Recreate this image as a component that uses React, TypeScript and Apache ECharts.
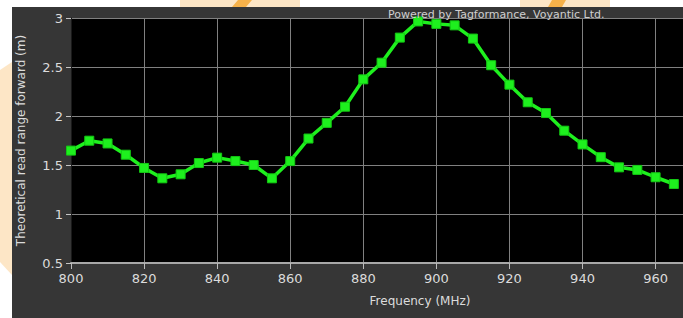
import React, { useEffect, useRef } from "react";
import * as echarts from "echarts";

const frequencies = [
  800, 805, 810, 815, 820, 825, 830, 835, 840, 845, 850, 855, 860, 865, 870, 875, 880,
  885, 890, 895, 900, 905, 910, 915, 920, 925, 930, 935, 940, 945, 950, 955, 960, 965,
];
const readRange = [
  1.647, 1.748, 1.72, 1.605, 1.47, 1.364, 1.405, 1.52, 1.575, 1.54, 1.5, 1.364, 1.54, 1.77,
  1.93, 2.095, 2.374, 2.544, 2.8, 2.965, 2.94, 2.925, 2.79, 2.518, 2.32, 2.14, 2.03, 1.85,
  1.71, 1.58, 1.476, 1.45, 1.375, 1.306,
];
const xTickValues = [800, 820, 840, 860, 880, 900, 920, 940, 960];

export default function App() {
  const ref = useRef<HTMLDivElement>(null);
  useEffect(() => {
    if (!ref.current) return;
    const chart = echarts.init(ref.current, null, { renderer: "svg" });
    const labelColor = "#dcdcdc";
    const font = "DejaVu Sans";
    chart.setOption({
      animation: false,
      backgroundColor: "#363636",
      grid: {
        left: 71,
        right: 0,
        top: 18,
        bottom: 55,
        show: true,
        backgroundColor: "#000000",
        borderWidth: 0,
      },
      xAxis: {
        type: "value",
        min: 800,
        max: 967.5,
        interval: 20,
        axisLine: { show: true, lineStyle: { color: "#a8a8a8", width: 2 } },
        axisTick: { show: true, length: 6, lineStyle: { color: "#bcbcbc" } },
        splitLine: { show: true, lineStyle: { color: "#808080", width: 1 } },
        axisLabel: {
          color: labelColor,
          fontFamily: font,
          fontSize: 13,
          margin: 9,
          showMaxLabel: false,
          formatter: (v: number) => (xTickValues.includes(Math.round(v)) && Math.abs(v - Math.round(v)) < 1e-6 ? String(Math.round(v)) : ""),
        },
      },
      yAxis: {
        type: "value",
        min: 0.5,
        max: 3,
        interval: 0.5,
        name: "Theoretical read range forward (m)",
        nameLocation: "middle",
        nameGap: 44,
        nameTextStyle: { color: labelColor, fontFamily: font, fontSize: 12 },
        axisLine: { show: true, lineStyle: { color: "#1a1a1a", width: 1 } },
        axisTick: { show: true, length: 5, lineStyle: { color: "#c4c4c4", width: 1 } },
        splitLine: { show: true, lineStyle: { color: "#808080", width: 1 } },
        axisLabel: { color: labelColor, fontFamily: font, fontSize: 13, margin: 8 },
      },
      graphic: [
        { type: "rect", shape: { x: 0, y: 0, width: 683, height: 7 }, style: { fill: "#ffffff" }, silent: true },
        { type: "rect", shape: { x: 0, y: 0, width: 12, height: 318 }, style: { fill: "#ffffff" }, silent: true },
        { type: "polygon", shape: { points: [[0, 70], [12, 62], [12, 275], [0, 262]] }, style: { fill: "#fde6c6" }, silent: true },
        { type: "polygon", shape: { points: [[180, 0], [300, 0], [300, 7], [180, 7]] }, style: { fill: "#fde6c6" }, silent: true },
        { type: "polygon", shape: { points: [[238, 0], [252, 0], [246, 7], [232, 7]] }, style: { fill: "#f7b24a" }, silent: true },
        { type: "polygon", shape: { points: [[520, 0], [610, 0], [610, 7], [520, 7]] }, style: { fill: "#fde6c6" }, silent: true },
        { type: "polygon", shape: { points: [[552, 0], [566, 0], [562, 7], [548, 7]] }, style: { fill: "#f7b24a" }, silent: true },
        {
          type: "text",
          x: 388,
          y: 14,
          style: {
            text: "Powered by Tagformance, Voyantic Ltd.",
            fill: "#cfcfcf",
            font: `11px "${font}"`,
            textVerticalAlign: "middle",
            verticalAlign: "middle",
          },
          z: 100,
        },
        {
          type: "text",
          x: 420,
          y: 301,
          style: {
            text: "Frequency (MHz)",
            fill: labelColor,
            font: `12px "${font}"`,
            align: "center",
            textAlign: "center",
            verticalAlign: "middle",
            textVerticalAlign: "middle",
          },
        },
      ],
      series: [
        {
          type: "line",
          data: frequencies.map((f, i) => [f, readRange[i]]),
          symbol: "rect",
          symbolSize: 9,
          lineStyle: { color: "#1ef01e", width: 3.5 },
          itemStyle: { color: "#1ef01e", borderColor: "#14c814", borderWidth: 1 },
          z: 3,
        },
      ],
    });
    return () => chart.dispose();
  }, []);
  return (
    <div
      ref={ref}
      style={{ position: "fixed", left: 0, top: 0, width: 683, height: 318 }}
    />
  );
}
